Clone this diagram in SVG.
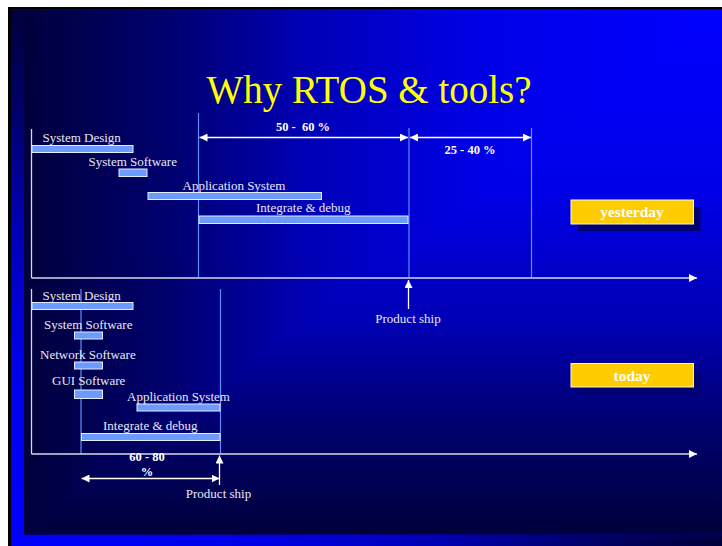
<svg xmlns="http://www.w3.org/2000/svg" width="722" height="546" viewBox="0 0 722 546">
  <defs>
    <!-- corner gradients: two linear ramps combined with "darken" give rectangular contours -->
    <linearGradient id="inH" x1="1" y1="0" x2="0" y2="0">
      <stop offset="0" stop-color="#0000ff"/>
      <stop offset="0.35" stop-color="#0000e6"/>
      <stop offset="0.6" stop-color="#0000b4"/>
      <stop offset="0.8" stop-color="#00006c"/>
      <stop offset="1" stop-color="#00003c"/>
    </linearGradient>
    <linearGradient id="inV" x1="0" y1="0" x2="0" y2="1">
      <stop offset="0" stop-color="#0000ff"/>
      <stop offset="0.35" stop-color="#0000e6"/>
      <stop offset="0.6" stop-color="#0000b4"/>
      <stop offset="0.8" stop-color="#00006c"/>
      <stop offset="1" stop-color="#00003c"/>
    </linearGradient>
    <linearGradient id="outH" x1="0" y1="0" x2="1" y2="0">
      <stop offset="0" stop-color="#0000ff"/>
      <stop offset="0.35" stop-color="#0000e6"/>
      <stop offset="0.6" stop-color="#0000b4"/>
      <stop offset="0.8" stop-color="#00006c"/>
      <stop offset="1" stop-color="#00003c"/>
    </linearGradient>
    <linearGradient id="outV" x1="0" y1="1" x2="0" y2="0">
      <stop offset="0" stop-color="#0000ff"/>
      <stop offset="0.35" stop-color="#0000e6"/>
      <stop offset="0.6" stop-color="#0000b4"/>
      <stop offset="0.8" stop-color="#00006c"/>
      <stop offset="1" stop-color="#00003c"/>
    </linearGradient>
    <marker id="ah" viewBox="0 0 10 10" refX="10" refY="5" markerWidth="8" markerHeight="8" markerUnits="userSpaceOnUse" orient="auto-start-reverse">
      <path d="M0,0 L10,5 L0,10 z" fill="#ffffff"/>
    </marker>
    <marker id="axh" viewBox="0 0 10 10" refX="10" refY="5" markerWidth="8" markerHeight="8" markerUnits="userSpaceOnUse" orient="auto">
      <path d="M0,0 L10,5 L0,10 z" fill="#ffffff"/>
    </marker>
  </defs>
  <style>
    .lbl { font-family: "Liberation Serif", "Times New Roman", serif; font-size: 13px; fill: #e8e8f2; }
    .pct { font-family: "Liberation Serif", "Times New Roman", serif; font-size: 12.5px; font-weight: bold; fill: #ffffff; }
    .bar { fill: #6b9bff; stroke: #e4ecff; stroke-width: 1; }
    .axis { stroke: #d8d8e8; stroke-width: 1.3; fill: none; }
    .grid { stroke: #5f8cff; stroke-width: 1.2; fill: none; }
    .dim { stroke: #ffffff; stroke-width: 1.3; fill: none; }
    .tag { fill: #ffcc00; stroke: #fff4d0; stroke-width: 1; }
    .tagShadow { fill: #000070; }
    .tagText { font-family: "Liberation Serif", "Times New Roman", serif; font-size: 15.5px; font-weight: bold; fill: #ffffff; text-anchor: middle; }
  </style>

  <!-- page -->
  <rect x="0" y="0" width="722" height="546" fill="#ffffff"/>
  <rect x="8" y="7" width="714" height="539" fill="#000000"/>
  <g style="isolation:isolate">
    <rect x="11" y="9.5" width="711" height="536.5" fill="url(#outH)"/>
    <rect x="11" y="9.5" width="711" height="536.5" fill="url(#outV)" style="mix-blend-mode:darken"/>
  </g>
  <g style="isolation:isolate">
    <rect x="24" y="9.5" width="698" height="525" fill="url(#inH)"/>
    <rect x="24" y="9.5" width="698" height="525" fill="url(#inV)" style="mix-blend-mode:darken"/>
  </g>

  <!-- title -->
  <text x="369" y="103" font-family="Liberation Serif, Times New Roman, serif" font-size="39" fill="#ffff00" text-anchor="middle">Why RTOS &amp; tools?</text>

  <!-- yesterday schedule -->
  <g id="yesterday-chart">
    <g id="y-grid">
      <line class="grid" x1="198.5" y1="113" x2="198.5" y2="277"/>
      <line class="grid" x1="409" y1="128" x2="409" y2="277"/>
      <line class="grid" x1="531.5" y1="128" x2="531.5" y2="277"/>
    </g>
    <g id="y-axes">
      <line class="axis" x1="31.5" y1="129" x2="31.5" y2="278"/>
      <line class="axis" x1="31.5" y1="278" x2="697" y2="278" marker-end="url(#axh)"/>
    </g>
    <g id="y-system-design">
      <text class="lbl" x="42.5" y="142">System Design</text>
      <rect class="bar" x="32" y="145.5" width="101" height="7"/>
    </g>
    <g id="y-system-software">
      <text class="lbl" x="88.5" y="166">System Software</text>
      <rect class="bar" x="119" y="169" width="28" height="7.5"/>
    </g>
    <g id="y-application-system">
      <text class="lbl" x="182.5" y="189.5">Application System</text>
      <rect class="bar" x="148" y="192.5" width="173.5" height="7"/>
    </g>
    <g id="y-integrate">
      <text class="lbl" x="256" y="212">Integrate &amp; debug</text>
      <rect class="bar" x="199" y="216" width="209" height="7.5"/>
    </g>
    <g id="y-span-50-60">
      <line class="dim" x1="199.5" y1="137.5" x2="408" y2="137.5" marker-start="url(#ah)" marker-end="url(#ah)"/>
      <text class="pct" x="303" y="131" text-anchor="middle" xml:space="preserve">50 -  60 %</text>
    </g>
    <g id="y-span-25-40">
      <line class="dim" x1="410" y1="137.5" x2="531" y2="137.5" marker-start="url(#ah)" marker-end="url(#ah)"/>
      <text class="pct" x="470" y="153.5" text-anchor="middle">25 - 40 %</text>
    </g>
    <g id="y-product-ship">
      <line class="dim" x1="408.5" y1="309" x2="408.5" y2="280" marker-end="url(#axh)"/>
      <text class="lbl" x="408" y="323" text-anchor="middle">Product ship</text>
    </g>
    <g id="tag-yesterday">
      <rect class="tagShadow" x="578" y="207" width="122.5" height="24"/>
      <rect class="tag" x="571" y="200" width="122.5" height="24"/>
      <text class="tagText" x="632" y="217">yesterday</text>
    </g>
  </g>

  <!-- today schedule -->
  <g id="today-chart">
    <g id="t-grid">
      <line class="grid" x1="81" y1="289" x2="81" y2="454"/>
      <line class="grid" x1="220.5" y1="289" x2="220.5" y2="454"/>
    </g>
    <g id="t-axes">
      <line class="axis" x1="31.5" y1="289" x2="31.5" y2="454"/>
      <line class="axis" x1="31.5" y1="454" x2="697" y2="454" marker-end="url(#axh)"/>
    </g>
    <g id="t-system-design">
      <text class="lbl" x="42.5" y="300">System Design</text>
      <rect class="bar" x="32" y="302.5" width="101" height="7"/>
    </g>
    <g id="t-system-software">
      <text class="lbl" x="44" y="328.5">System Software</text>
      <rect class="bar" x="74.5" y="332" width="28" height="7"/>
    </g>
    <g id="t-network-software">
      <text class="lbl" x="40" y="358.5">Network Software</text>
      <rect class="bar" x="74.5" y="362" width="28" height="7"/>
    </g>
    <g id="t-gui-software">
      <text class="lbl" x="52" y="384.5">GUI Software</text>
      <rect class="bar" x="74.5" y="390" width="28" height="8.5"/>
    </g>
    <g id="t-application-system">
      <text class="lbl" x="127" y="401">Application System</text>
      <rect class="bar" x="137" y="404" width="83" height="7"/>
    </g>
    <g id="t-integrate">
      <text class="lbl" x="103" y="430">Integrate &amp; debug</text>
      <rect class="bar" x="81.5" y="433.5" width="138.5" height="7"/>
    </g>
    <g id="t-span-60-80">
      <line class="dim" x1="81.5" y1="478.5" x2="219.5" y2="478.5" marker-start="url(#ah)" marker-end="url(#ah)"/>
      <text class="pct" x="147" y="461" text-anchor="middle">60 - 80</text>
      <text class="pct" x="147" y="476" text-anchor="middle">%</text>
    </g>
    <g id="t-product-ship">
      <line class="dim" x1="219.5" y1="485" x2="219.5" y2="455.5" marker-end="url(#axh)"/>
      <text class="lbl" x="218.5" y="497.5" text-anchor="middle">Product ship</text>
    </g>
    <g id="tag-today">
      <rect class="tagShadow" x="578" y="370.5" width="122.5" height="24"/>
      <rect class="tag" x="571" y="363.5" width="122.5" height="23.5"/>
      <text class="tagText" x="632" y="380.5">today</text>
    </g>
  </g>
</svg>
